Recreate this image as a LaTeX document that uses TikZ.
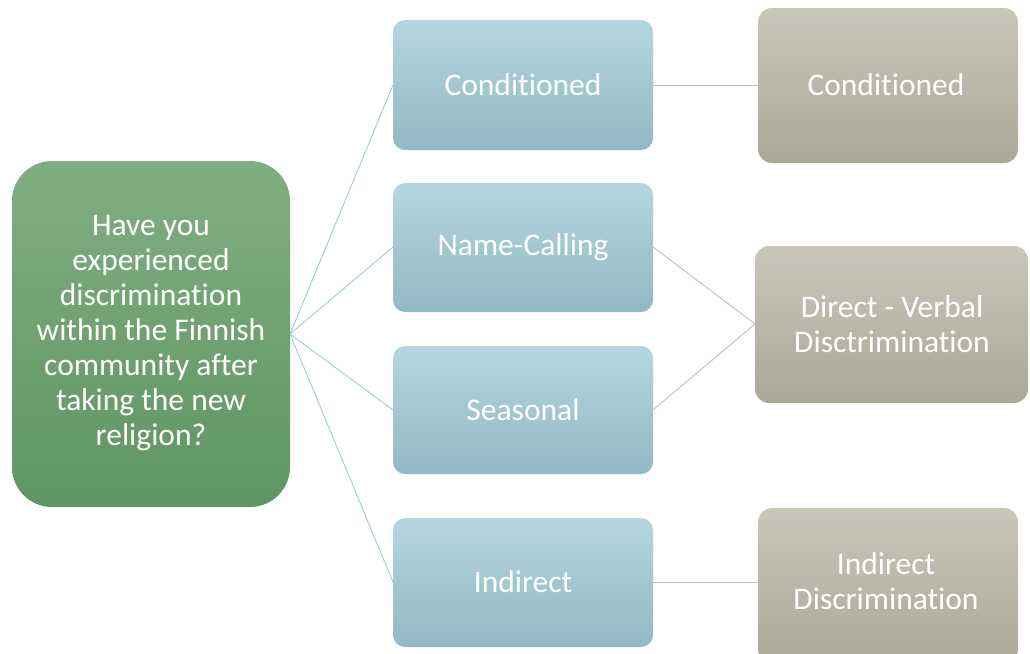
\documentclass[tikz,border=0pt]{standalone}
\usepackage{fontspec}
\setmainfont[Ligatures=NoCommon]{Carlito}
\begin{document}
\begin{tikzpicture}[x=1pt,y=-1pt,
  box/.style={rounded corners=#1, inner sep=0pt, text=white, align=center,
    font=\fontsize{31.5}{35}\selectfont},
  qbox/.style={box=40pt, top color=qtop, bottom color=qbot},
  catbox/.style={box=12pt, top color=ctop, bottom color=cbot},
  resbox/.style={box=14pt, top color=rtop, bottom color=rbot},
  blink/.style={draw=blink, line width=0.9pt},
  tlink/.style={draw=tlink, line width=0.9pt}]
\definecolor{qtop}{HTML}{80AE83}
\definecolor{qbot}{HTML}{5F9563}
\definecolor{ctop}{HTML}{B4D6DF}
\definecolor{cbot}{HTML}{92B9C4}
\definecolor{rtop}{HTML}{C9C7B9}
\definecolor{rbot}{HTML}{AAA896}
\definecolor{blink}{HTML}{9DCBD8}
\definecolor{tlink}{HTML}{C3BFAE}
\useasboundingbox (0,0) rectangle (1030,653);

% question box
\path[qbox] (12,161) rectangle (290,507);
\node[box=0pt] (q) at (151,333) {Have you\\experienced\\discrimination\\within the Finnish\\community after\\taking the new\\religion?};
\coordinate (qr) at (290,334);

% category boxes
\path[catbox] (393,20) rectangle (653,150);
\path[catbox] (393,183) rectangle (653,312);
\path[catbox] (393,346) rectangle (653,474);
\path[catbox] (393,518) rectangle (653,647);
\node[box=0pt] (c1) at (523,85) {Conditioned};
\node[box=0pt] (c2) at (523,247) {Name-Calling};
\node[box=0pt] (c3) at (523,410) {Seasonal};
\node[box=0pt] (c4) at (523,582) {Indirect};
\coordinate (c1l) at (393,85);  \coordinate (c1r) at (653,85);
\coordinate (c2l) at (393,247); \coordinate (c2r) at (653,247);
\coordinate (c3l) at (393,410); \coordinate (c3r) at (653,410);
\coordinate (c4l) at (393,582); \coordinate (c4r) at (653,582);

% result boxes
\path[resbox] (758,8) rectangle (1018,163);
\path[resbox] (755,246) rectangle (1028,403);
\path[resbox] (758,508) rectangle (1018,663);
\node[box=0pt] (r1) at (886,85) {Conditioned};
\node[box=0pt] (r2) at (892,324) {Direct - Verbal\\Disctrimination};
\node[box=0pt] (r3) at (886,581) {Indirect\\Discrimination};
\coordinate (r1l) at (758,85);
\coordinate (r2l) at (755,324);
\coordinate (r3l) at (758,582);

% connectors
\draw[blink] (qr) -- (c1l);
\draw[blink] (qr) -- (c2l);
\draw[blink] (qr) -- (c3l);
\draw[blink] (qr) -- (c4l);
\draw[tlink] (c1r) -- (r1l);
\draw[tlink] (c2r) -- (r2l);
\draw[tlink] (c3r) -- (r2l);
\draw[tlink] (c4r) -- (r3l);
\end{tikzpicture}
\end{document}
